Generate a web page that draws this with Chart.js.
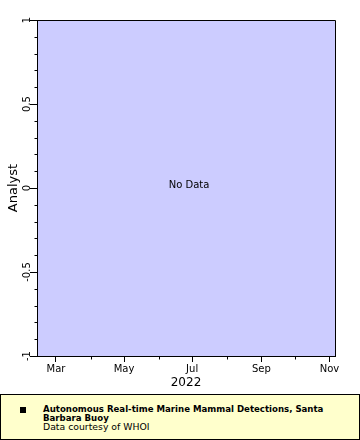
<!DOCTYPE html>
<html>
<head>
<meta charset="utf-8">
<script src="https://cdn.jsdelivr.net/npm/chart.js@4.4.1/dist/chart.umd.min.js"></script>
<style>
  html, body { margin: 0; padding: 0; background: #ffffff; }
  #wrap { position: relative; width: 360px; height: 440px; overflow: hidden; }
  #c { position: absolute; left: 0; top: 0; }
  #legend {
    position: absolute; left: 0; top: 394px; width: 358px; height: 44px;
    background: #ffffcc; border: 1px solid #000;
    font-family: "DejaVu Sans", Verdana, sans-serif; color: #000;
  }
  #legend .mk { position: absolute; left: 19px; top: 12px; width: 6px; height: 6px; background: #000; }
  #legend .ln { position: absolute; left: 42px; line-height: 10px; height: 10px; white-space: nowrap; }
  #legend .b { font-weight: bold; font-size: 8.6px; }
  #legend .n { font-size: 9.3px; }
</style>
</head>
<body>
<div id="wrap">
  <canvas id="c" width="360" height="394"></canvas>
  <div id="legend">
    <div class="mk"></div>
    <div class="ln b" style="top:9px">Autonomous Real-time Marine Mammal Detections, Santa</div>
    <div class="ln b" style="top:18px">Barbara Buoy</div>
    <div class="ln n" style="top:27px">Data courtesy of WHOI</div>
  </div>
</div>
<script>
// ---- data ----
const seriesName = 'Analyst';
const analystDates = [];      // no detections in this period
const analystValues = [];
const xRangeDates = ['2022-02-12', '2022-11-06'];
const xMajorTickDates = ['2022-03-01', '2022-05-01', '2022-07-01', '2022-09-01', '2022-11-01'];
const xMajorTickLabels = ['Mar', 'May', 'Jul', 'Sep', 'Nov'];
const xMinorTickDates = ['2022-04-01', '2022-06-01', '2022-08-01', '2022-10-01'];
const xTitle = '2022';
const yRange = [-1, 1];
const yMajorTicks = [-1, -0.5, 0, 0.5, 1];
const yMajorTickLabels = ['-1', '-0.5', '0', '0.5', '1'];
const yMinorTicks = [-0.9, -0.8, -0.7, -0.6, -0.4, -0.3, -0.2, -0.1, 0.1, 0.2, 0.3, 0.4, 0.6, 0.7, 0.8, 0.9];
const noDataText = 'No Data';

const t = s => Date.parse(s + 'T00:00:00Z');
const FONT = '"DejaVu Sans", Verdana, sans-serif';

const plotBg = {
  id: 'plotBg',
  beforeDraw(chart) {
    const {ctx, chartArea: a} = chart;
    ctx.save();
    ctx.fillStyle = '#ccccff';
    ctx.fillRect(a.left, a.top, a.right - a.left, a.bottom - a.top);
    ctx.restore();
  },
  afterDraw(chart) {
    const {ctx, chartArea: a} = chart;
    const xs = chart.scales.x, ys = chart.scales.y;
    ctx.save();
    ctx.strokeStyle = '#000';
    ctx.lineWidth = 1;
    ctx.beginPath();
    const L = Math.round(a.left) + 0.5, R = Math.round(a.right) + 0.5;
    const T = Math.round(a.top) + 0.5, B = Math.round(a.bottom) + 0.5;
    ctx.rect(L, T, R - L, B - T);
    xMinorTickDates.forEach(d => {
      const px = Math.round(xs.getPixelForValue(t(d))) + 0.5;
      ctx.moveTo(px, B); ctx.lineTo(px, B + 3);
    });
    yMinorTicks.forEach(v => {
      const py = Math.round(ys.getPixelForValue(v)) + 0.5;
      ctx.moveTo(L - 3, py); ctx.lineTo(L, py);
    });
    ctx.stroke();
    if (analystValues.length === 0) {
      ctx.fillStyle = '#000';
      ctx.font = '10px ' + FONT;
      ctx.textAlign = 'center';
      ctx.textBaseline = 'middle';
      ctx.fillText(noDataText, (a.left + a.right) / 2 + 3, (a.top + a.bottom) / 2 - 3);
    }
    ctx.restore();
  }
};

new Chart(document.getElementById('c'), {
  type: 'line',
  data: {
    datasets: [{
      label: seriesName,
      data: analystDates.map((d, i) => ({x: t(d), y: analystValues[i]})),
      borderColor: '#000', backgroundColor: '#000', showLine: false, pointStyle: 'rect', pointRadius: 3
    }]
  },
  options: {
    responsive: false,
    animation: false,
    devicePixelRatio: 1,
    layout: { padding: { top: 20, right: 25, left: 0, bottom: 0 } },
    plugins: { legend: { display: false }, tooltip: { enabled: false } },
    scales: {
      x: {
        type: 'linear',
        min: t(xRangeDates[0]), max: t(xRangeDates[1]),
        afterBuildTicks: s => { s.ticks = xMajorTickDates.map(d => ({value: t(d)})); },
        afterFit: s => { s.height = 38; },
        ticks: {
          autoSkip: false, maxRotation: 0, minRotation: 0, padding: 1,
          color: '#000', font: { family: FONT, size: 10 },
          callback: (v, i) => xMajorTickLabels[i]
        },
        grid: { drawOnChartArea: false, tickLength: 6, tickColor: '#000', color: '#000' },
        border: { display: true, color: '#000' },
        title: { display: true, text: xTitle, color: '#000', font: { family: FONT, size: 12 }, padding: { top: 0, bottom: 4 } }
      },
      y: {
        type: 'linear',
        min: yRange[0], max: yRange[1],
        afterBuildTicks: s => { s.ticks = yMajorTicks.map(v => ({value: v})); },
        afterFit: s => { s.width = 37; },
        ticks: {
          autoSkip: false, minRotation: 90, maxRotation: 90, crossAlign: 'center', padding: -7.5,
          color: '#000', font: { family: FONT, size: 10 },
          callback: (v, i) => yMajorTickLabels[i]
        },
        grid: { drawOnChartArea: false, tickLength: 7, tickColor: '#000', color: '#000' },
        border: { display: true, color: '#000' },
        title: { display: true, text: seriesName, color: '#000', font: { family: FONT, size: 13 }, padding: { top: 6, bottom: 0 } }
      }
    }
  },
  plugins: [plotBg]
});
</script>
</body>
</html>
